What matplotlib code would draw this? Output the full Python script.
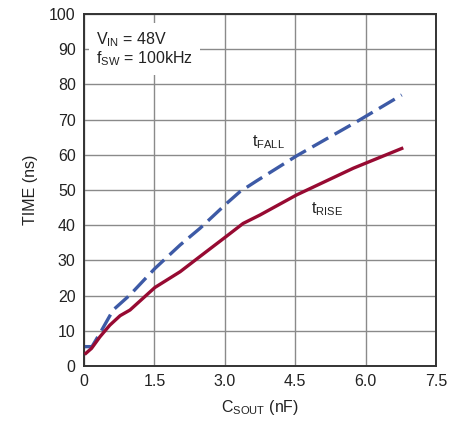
import matplotlib
matplotlib.use("Agg")
import matplotlib.pyplot as plt
from matplotlib import font_manager

names = {f.name for f in font_manager.fontManager.ttflist}
narrow = 'Liberation Sans Narrow' if 'Liberation Sans Narrow' in names else 'Liberation Sans'
plt.rcParams['font.family'] = [narrow, 'DejaVu Sans']
plt.rcParams['mathtext.fontset'] = 'custom'
plt.rcParams['mathtext.rm'] = narrow

# Data
fall_x = [0.02, 0.17, 0.34, 0.62, 0.98, 1.51, 2.05, 2.47, 3.04, 3.32, 3.68, 4.53, 5.81, 6.77]
fall_y = [5.5, 5.5, 9.3, 15.9, 20.2, 27.7, 34.4, 39.1, 46.2, 49.5, 52.6, 59.7, 69.4, 77.0]
rise_x = [0.04, 0.16, 0.34, 0.55, 0.77, 0.98, 1.51, 2.05, 2.47, 3.04, 3.39, 3.75, 4.53, 5.74, 6.77]
rise_y = [3.6, 5.0, 8.3, 11.6, 14.3, 15.9, 22.3, 26.8, 31.1, 36.9, 40.5, 42.9, 48.6, 56.2, 61.8]
x_ticks = [0, 1.5, 3.0, 4.5, 6.0, 7.5]
x_tick_labels = ['0', '1.5', '3.0', '4.5', '6.0', '7.5']
y_ticks = [0, 10, 20, 30, 40, 50, 60, 70, 80, 90, 100]

fig = plt.figure(figsize=(4.61, 4.23), dpi=100)
ax = fig.add_axes([84/461, 1-366/423, (436-84)/461, (366-14)/423])

ax.plot(fall_x, fall_y, color='#3d5aa6', lw=2.4, dashes=(5.5, 2.2), zorder=3)
ax.plot(rise_x, rise_y, color='#970a32', lw=2.4, zorder=3)

ax.set_xlim(0, 7.5)
ax.set_ylim(0, 100)
ax.set_xticks(x_ticks)
ax.set_xticklabels(x_tick_labels)
ax.set_yticks(y_ticks)
ax.grid(True, color='#8a8a8a', lw=1.0, zorder=0)
ax.tick_params(length=0, labelsize=11.5, colors='#222222', pad=6)
for s in ax.spines.values():
    s.set_color('#333333')
    s.set_linewidth(1.4)

ax.set_xlabel(r'C$_{\mathrm{SOUT}}$ (nF)', fontsize=11.5, color='#222222', labelpad=6)
ax.set_ylabel('TIME (ns)', fontsize=11.5, color='#222222', labelpad=8)

ax.text(0.26, 95.3, 'V$_{\\mathrm{IN}}$ = 48V\nf$_{\\mathrm{SW}}$ = 100kHz', fontsize=11.5,
        color='#222222', va='top', ha='left', linespacing=1.0,
        bbox=dict(facecolor='white', edgecolor='none', boxstyle='square,pad=0.45'), zorder=4)
ax.text(3.58, 63.5, 't$_{\\mathrm{FALL}}$', fontsize=11.5, color='#222222', ha='left', va='center', zorder=4)
ax.text(4.83, 44.5, 't$_{\\mathrm{RISE}}$', fontsize=11.5, color='#222222', ha='left', va='center', zorder=4)

fig.savefig('out.png', dpi=100)
